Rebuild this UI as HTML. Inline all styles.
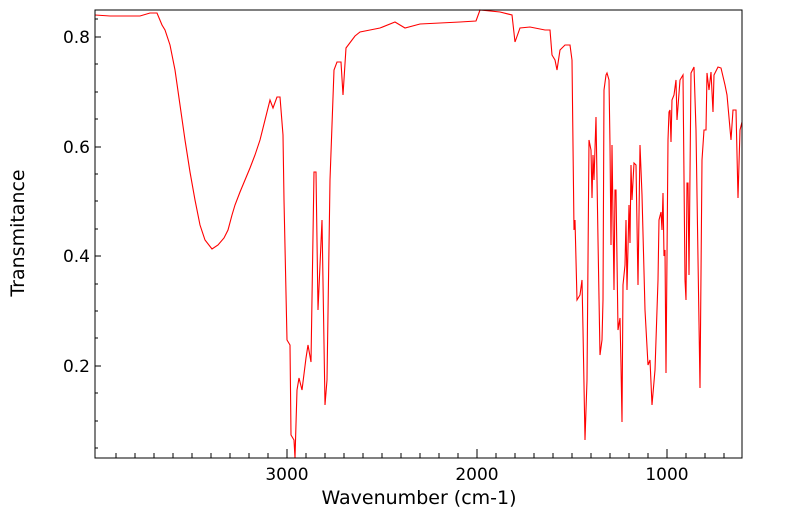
<!DOCTYPE html>
<html><head><style>body{margin:0;background:#fff}</style></head><body>
<svg width="799" height="516" xmlns="http://www.w3.org/2000/svg" font-family="DejaVu Sans, Liberation Sans, sans-serif">
<rect width="799" height="516" fill="#fff"/>
<g stroke="#000" stroke-width="1">
<line x1="95" y1="37" x2="101" y2="37"/><line x1="95" y1="147" x2="101" y2="147"/><line x1="95" y1="256" x2="101" y2="256"/><line x1="95" y1="366" x2="101" y2="366"/>
<line x1="95" y1="64" x2="98" y2="64"/><line x1="95" y1="92" x2="98" y2="92"/><line x1="95" y1="119" x2="98" y2="119"/><line x1="95" y1="174" x2="98" y2="174"/><line x1="95" y1="201" x2="98" y2="201"/><line x1="95" y1="229" x2="98" y2="229"/><line x1="95" y1="284" x2="98" y2="284"/><line x1="95" y1="311" x2="98" y2="311"/><line x1="95" y1="338" x2="98" y2="338"/><line x1="95" y1="393" x2="98" y2="393"/><line x1="95" y1="421" x2="98" y2="421"/><line x1="95" y1="448" x2="98" y2="448"/><line x1="95" y1="19" x2="98" y2="19"/>
<line x1="287" y1="458" x2="287" y2="449"/><line x1="477" y1="458" x2="477" y2="449"/><line x1="667" y1="458" x2="667" y2="449"/>
</g>
<g stroke="#000" stroke-width="1">
<line x1="116" y1="458" x2="116" y2="453"/><line x1="135" y1="458" x2="135" y2="453"/><line x1="154" y1="458" x2="154" y2="453"/><line x1="173" y1="458" x2="173" y2="453"/><line x1="192" y1="458" x2="192" y2="453"/><line x1="211" y1="458" x2="211" y2="453"/><line x1="230" y1="458" x2="230" y2="453"/><line x1="249" y1="458" x2="249" y2="453"/><line x1="268" y1="458" x2="268" y2="453"/>
<line x1="306" y1="458" x2="306" y2="453"/><line x1="325" y1="458" x2="325" y2="453"/><line x1="344" y1="458" x2="344" y2="453"/><line x1="363" y1="458" x2="363" y2="453"/><line x1="382" y1="458" x2="382" y2="453"/><line x1="401" y1="458" x2="401" y2="453"/><line x1="420" y1="458" x2="420" y2="453"/><line x1="439" y1="458" x2="439" y2="453"/><line x1="458" y1="458" x2="458" y2="453"/>
<line x1="496" y1="458" x2="496" y2="453"/><line x1="515" y1="458" x2="515" y2="453"/><line x1="534" y1="458" x2="534" y2="453"/><line x1="553" y1="458" x2="553" y2="453"/><line x1="572" y1="458" x2="572" y2="453"/><line x1="591" y1="458" x2="591" y2="453"/><line x1="610" y1="458" x2="610" y2="453"/><line x1="629" y1="458" x2="629" y2="453"/><line x1="648" y1="458" x2="648" y2="453"/>
<line x1="686" y1="458" x2="686" y2="453"/><line x1="705" y1="458" x2="705" y2="453"/><line x1="724" y1="458" x2="724" y2="453"/>
</g>
<polyline fill="none" stroke="#f00" stroke-width="1.1" points="95,15 110,16 140,16 150,13 157,13 162,25 165,30 170,45 175,70 180,105 185,140 190,172 195,200 200,225 205,240 212,249 218,245 224,238 228,230 232,215 235,205 240,192 245,180 250,168 255,155 260,140 265,120 270,100 273,108 277,97 280,97 283,135 284,200 287,340 290,345 291,435 294,440 295,458 297,390 299,378 302,390 306,358 308,345 311,362 314,172 316,172 318,310 322,220 325,405 327,380 330,180 334,70 337,62 341,62 343,95 346,48 355,36 360,32 370,30 380,28 395,22 405,28 420,24 460,22 476,21 480,10 500,12 512,15 515,42 520,28 530,27 545,30 550,30 552,55 555,60 557,70 560,50 565,45 570,45 572,60 574,230 575,220 577,300 580,295 582,280 583,330 585,440 587,380 589,140 591,150 592,198 593,155 594,180 596,117 598,240 600,355 602,340 603,300 604,90 606,75 607,73 609,80 610,145 611,245 612,145 614,290 615,190 616,190 618,330 620,318 621,365 622,422 623,285 625,265 626,220 627,290 629,205 630,243 631,165 632,200 634,163 636,165 638,285 640,145 642,195 645,310 648,365 650,360 652,405 655,370 658,280 659,220 661,212 662,230 663,193 664,256 665,250 666,373 668,140 669,112 670,110 671,142 672,100 674,95 676,80 677,120 680,80 683,75 685,280 686,300 687,183 688,183 689,275 691,73 694,67 696,130 700,388 702,160 704,130 706,130 707,73 709,90 711,72 713,112 714,75 718,67 721,68 725,85 727,95 731,140 733,110 736,110 738,198 740,130 742,122"/>
<rect x="95" y="10" width="647" height="448" fill="none" stroke="#000" stroke-width="1"/>
<g font-size="17" fill="#000">
<text x="90" y="43" text-anchor="end">0.8</text><text x="90" y="153" text-anchor="end">0.6</text><text x="90" y="262" text-anchor="end">0.4</text><text x="90" y="372" text-anchor="end">0.2</text>
<text x="287" y="480" text-anchor="middle">3000</text><text x="477" y="480" text-anchor="middle">2000</text><text x="667" y="480" text-anchor="middle">1000</text>
<text x="419" y="504" text-anchor="middle" font-size="19">Wavenumber (cm-1)</text>
<text transform="translate(24,233) rotate(-90)" text-anchor="middle" font-size="19">Transmitance</text>
</g>
</svg>
</body></html>
